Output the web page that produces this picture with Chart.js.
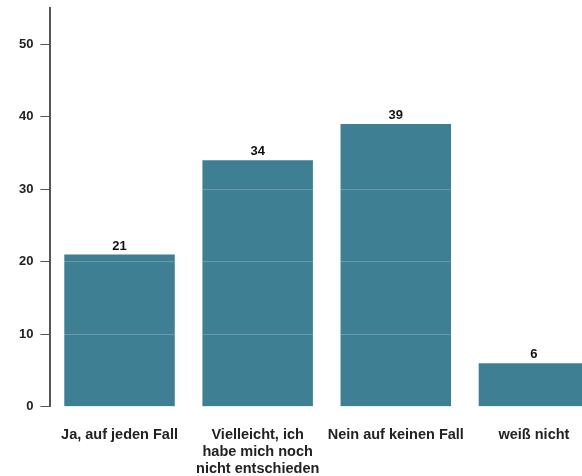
<!DOCTYPE html>
<html>
<head>
<meta charset="utf-8">
<script src="https://cdn.jsdelivr.net/npm/chart.js@4/dist/chart.umd.min.js"></script>
<style>
  html, body { margin: 0; padding: 0; background: #fff; overflow: hidden; }
  #wrap { width: 620px; height: 497px; }
</style>
</head>
<body>
<div id="wrap"><canvas id="umfrageChart"></canvas></div>
<script>
const categories = [
  "Ja, auf jeden Fall",
  ["Vielleicht, ich", "habe mich noch", "nicht entschieden"],
  "Nein auf keinen Fall",
  "weiß nicht"
];
const values = [21, 34, 39, 6];
const yTicks = [0, 10, 20, 30, 40, 50];

const barColor = "rgb(63,127,148)";

// Zahlen über den Balken
const valueLabels = {
  id: "valueLabels",
  afterDatasetsDraw(chart) {
    const ctx = chart.ctx;
    const meta = chart.getDatasetMeta(0);
    ctx.save();
    ctx.font = "bold 13px 'Liberation Sans', Arial, sans-serif";
    ctx.fillStyle = "#111";
    ctx.textAlign = "center";
    ctx.textBaseline = "bottom";
    meta.data.forEach((bar, i) => {
      ctx.fillText(values[i], bar.x, bar.y - 2);
    });
    ctx.restore();
  }
};

const ctx = document.getElementById("umfrageChart").getContext("2d");
new Chart(ctx, {
  type: "bar",
  data: {
    labels: categories,
    datasets: [{
      data: values,
      backgroundColor: barColor,
      barPercentage: 0.8,
      categoryPercentage: 1
    }]
  },
  options: {
    responsive: true,
    maintainAspectRatio: false,
    animation: false,
    layout: { padding: { top: 8, left: 12, right: 17, bottom: 0 } },
    plugins: {
      legend: { display: false },
      tooltip: { enabled: false }
    },
    scales: {
      x: {
        grid: { display: false, drawTicks: false },
        border: { display: false },
        ticks: {
          color: "#222",
          font: { family: "'Liberation Sans', Arial, sans-serif", size: 14.5, weight: "bold", lineHeight: 1.2 },
          padding: 19,
          maxRotation: 0,
          autoSkip: false
        }
      },
      y: {
        min: 0,
        max: 55,
        afterBuildTicks: (scale) => {
          scale.ticks = yTicks.map((v) => ({ value: v }));
        },
        afterFit: (scale) => {
          scale.paddingTop = 0;
        },
        // Gitterlinien über den Balken
        grid: {
          z: 1,
          color: "rgba(255,255,255,0.22)",
          tickColor: "#555",
          tickLength: 10,
          lineWidth: 1
        },
        border: { display: true, color: "#555", width: 2, z: 1 },
        ticks: {
          color: "#222",
          font: { family: "'Liberation Sans', Arial, sans-serif", size: 13, weight: "bold" },
          padding: 7
        }
      }
    }
  },
  plugins: [valueLabels]
});
</script>
</body>
</html>
